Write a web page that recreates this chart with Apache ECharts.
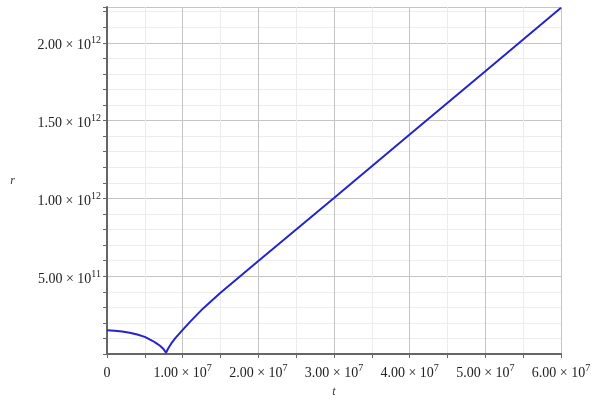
<!DOCTYPE html>
<html>
<head>
<meta charset="utf-8">
<script src="https://cdn.jsdelivr.net/npm/echarts@6/dist/echarts.min.js"></script>
<style>
html, body { margin: 0; padding: 0; background: #fff; }
#main { width: 600px; height: 400px; }
</style>
</head>
<body>
<div id="main"></div>
<script>
// time values t (s)
var tValues = [0, 1e6, 2e6, 3e6, 4e6, 5e6, 6e6, 6.5e6, 7e6, 7.5e6, 7.8e6,
	8.1e6, 8.5e6, 9e6, 1e7, 1.1e7, 1.27e7, 1.5e7, 2e7, 2.5e7, 3e7, 4e7, 5e7, 6e7];
// distance values r
var rValues = [1.52e11, 1.50e11, 1.44e11, 1.36e11, 1.25e11, 1.10e11, 0.85e11, 0.70e11, 0.53e11, 0.30e11, 0.08e11,
	0.37e11, 0.68e11, 1.00e11, 1.55e11, 2.08e11, 2.93e11, 3.93e11, 5.97e11, 8.0e11, 10.02e11, 14.1e11, 18.17e11, 22.25e11];

var xTicks = [0, 1e7, 2e7, 3e7, 4e7, 5e7, 6e7];
var yTicks = [5e11, 1e12, 1.5e12, 2e12];

var points = [];
for (var i = 0; i < tValues.length; i++) {
	points.push([tValues[i], rValues[i]]);
}

// label like 2.00 x 10^12 with a raised exponent
function sciLabel(v) {
	if (v === 0) return '{a|0}';
	var e = Math.floor(Math.log10(v) + 1e-9);
	var m = v / Math.pow(10, e);
	return '{a|' + m.toFixed(2) + ' \u00d7 10}{s|' + e + '}';
}

var labelRich = {
	a: { fontFamily: 'Liberation Serif', fontSize: 14, color: '#222', padding: [6, 0, 0, 0] },
	s: { fontFamily: 'Liberation Serif', fontSize: 10, color: '#222', padding: [0, 0, 4, 0] }
};

var myChart = echarts.init(document.getElementById('main'));
var option = {
	animation: false,
	grid: {
		left: 107,
		right: 39,
		top: 7,
		bottom: 46,
		outerBoundsMode: 'none'
	},
	xAxis: {
		type: 'value',
		min: 0,
		max: 6e7,
		interval: 1e7,
		name: 't',
		nameLocation: 'middle',
		nameGap: 32,
		nameTextStyle: { fontFamily: 'Liberation Serif', fontStyle: 'italic', fontSize: 12, color: '#333' },
		axisLine: { lineStyle: { color: '#666', width: 2 } },
		axisTick: { show: true, length: 4, lineStyle: { color: '#666' } },
		minorTick: { show: true, splitNumber: 2, length: 4, lineStyle: { color: '#666' } },
		splitLine: { show: true, lineStyle: { color: '#c4c4c4', width: 1 } },
		minorSplitLine: { show: true, lineStyle: { color: '#ececec', width: 1 } },
		axisLabel: {
			margin: 6,
			formatter: function (v) {
				return xTicks.indexOf(v) >= 0 ? sciLabel(v) : '';
			},
			rich: labelRich,
			fontFamily: 'Liberation Serif',
			fontSize: 14,
			color: '#222'
		}
	},
	yAxis: {
		type: 'value',
		min: 0,
		max: 2.23e12,
		interval: 5e11,
		name: 'r',
		nameLocation: 'middle',
		nameRotate: 0,
		nameGap: 92,
		nameTextStyle: { fontFamily: 'Liberation Serif', fontStyle: 'italic', fontSize: 12, color: '#333', padding: [8, 0, 0, 0] },
		axisLine: { show: true, lineStyle: { color: '#666', width: 2 } },
		axisTick: { show: true, length: 4, lineStyle: { color: '#666' } },
		minorTick: { show: true, splitNumber: 5, length: 4, lineStyle: { color: '#666' } },
		splitLine: { show: true, lineStyle: { color: '#c4c4c4', width: 1 } },
		minorSplitLine: { show: true, lineStyle: { color: '#ececec', width: 1 } },
		axisLabel: {
			margin: 6,
			showMaxLabel: false,
			formatter: function (v) {
				return yTicks.indexOf(v) >= 0 ? sciLabel(v) : '';
			},
			rich: labelRich,
			fontFamily: 'Liberation Serif',
			fontSize: 14,
			color: '#222'
		}
	},
	series: [{
		type: 'line',
		data: points,
		showSymbol: false,
		smooth: false,
		lineStyle: { color: '#2424c8', width: 2 }
	}]
};
myChart.setOption(option);
</script>
</body>
</html>
